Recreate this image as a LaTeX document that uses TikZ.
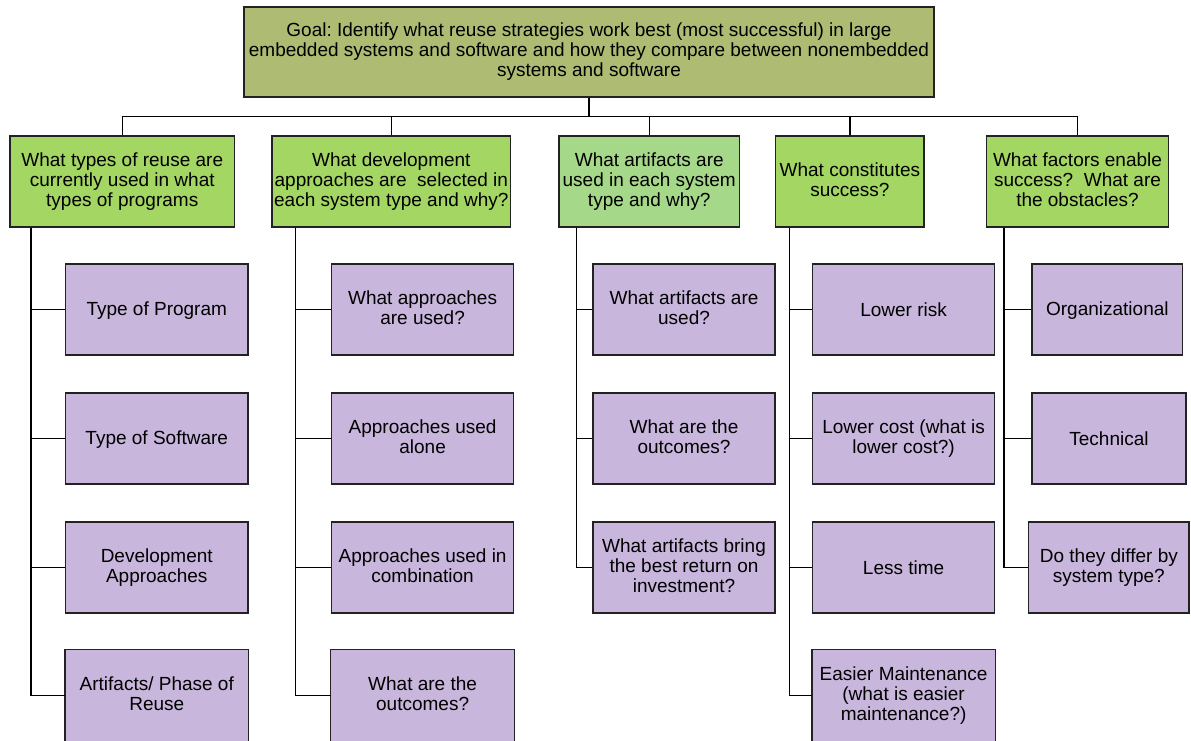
\documentclass[tikz,border=0pt]{standalone}
\usepackage{fontspec}
\setmainfont{Liberation Sans}
\frenchspacing
\definecolor{goalc}{HTML}{ADBB73}
\definecolor{qc}{HTML}{A3D662}
\definecolor{qlc}{HTML}{A6D889}
\definecolor{chc}{HTML}{C8B6DC}
\definecolor{edge}{HTML}{222222}
\newcommand{\linestrut}{\rule[-3.5pt]{0pt}{20pt}}
\begin{document}
\begin{tikzpicture}[x=1pt,y=-1pt,
  box/.style={draw=edge,line width=1.2pt,inner sep=0pt,align=center,minimum height=91pt,
    font=\fontsize{19}{20}\selectfont,execute at begin node=\linestrut,execute at end node=\linestrut},
  goalbox/.style={box,fill=goalc,minimum width=690pt,minimum height=90pt},
  qbox/.style={box,fill=qc},
  qlbox/.style={box,fill=qlc},
  chbox/.style={box,fill=chc},
  lastbox/.style={chbox,draw=none},
  openborder/.style={draw=edge,line width=1.2pt},
  link/.style={line width=1.5pt,draw=black}]
\useasboundingbox (0,0) rectangle (1191,740);
\clip (0,0) rectangle (1191,740);
% goal
\node[goalbox] (goal) at (589,52) {Goal: Identify what reuse strategies work best (most successful) in large\\embedded systems and software and how they compare between nonembedded\\systems and software};
% level 1
\node[qbox,minimum width=224.5pt] (q1) at (122.25,181.5) {What types of reuse are\\currently used in what\\types of programs};
\node[qbox,minimum width=238.7pt] (q2) at (391.35,181.5) {What development\\approaches are\ \ selected in\\each system type and why?};
\node[qlbox,minimum width=180.5pt] (q3) at (649.25,181.5) {What artifacts are\\used in each system\\type and why?};
\node[qbox,minimum width=148.2pt] (q4) at (849.9,181.5) {What constitutes\\success?};
\node[qbox,minimum width=182pt] (q5) at (1077.5,181.5) {What factors enable\\success?\ \ What are\\the obstacles?};
% column 1
\node[chbox,minimum width=182.5pt] (c11) at (156.75,309.5) {Type of Program};
\node[chbox,minimum width=182.5pt] (c12) at (156.75,438.5) {Type of Software};
\node[chbox,minimum width=182.5pt] (c13) at (156.75,567.5) {Development\\Approaches};
\node[lastbox,minimum width=182.5pt] (c14) at (156.75,695.5) {Artifacts/ Phase of\\Reuse};
% column 2
\node[chbox,minimum width=182.4pt] (c21) at (422.6,309.5) {What approaches\\are used?};
\node[chbox,minimum width=182.4pt] (c22) at (422.6,438.5) {Approaches used\\alone};
\node[chbox,minimum width=182.4pt] (c23) at (422.6,567.5) {Approaches used in\\combination};
\node[lastbox,minimum width=182.4pt] (c24) at (422.6,695.5) {What are the\\outcomes?};
% column 3
\node[chbox,minimum width=182pt] (c31) at (684,309.5) {What artifacts are\\used?};
\node[chbox,minimum width=182pt] (c32) at (684,438.5) {What are the\\outcomes?};
\node[chbox,minimum width=182pt] (c33) at (684,567.5) {What artifacts bring\\the best return on\\investment?};
% column 4
\node[chbox,minimum width=182pt] (c41) at (903.6,309.5) {Lower risk};
\node[chbox,minimum width=182pt] (c42) at (903.6,438.5) {Lower cost (what is\\lower cost?)};
\node[chbox,minimum width=182pt] (c43) at (903.6,567.5) {Less time};
\node[lastbox,minimum width=182pt] (c44) at (903.6,695.5) {Easier Maintenance\\(what is easier\\maintenance?)};
% column 5
\node[chbox,minimum width=150.7pt] (c51) at (1107.35,309.5) {Organizational};
\node[chbox,minimum width=154pt] (c52) at (1109,438.5) {Technical};
\node[chbox,minimum width=160.3pt] (c53) at (1108.85,567.5) {Do they differ by\\system type?};
% open borders of the bottom row (cut by the page edge)
\foreach \c in {c14,c24,c44}{
  \draw[openborder] ([yshift=-4pt]\c.south west) -- (\c.north west) -- (\c.north east) -- ([yshift=-4pt]\c.south east);
}
% connectors goal -> level 1
\coordinate (bus) at (589,116.5);
\foreach \q in {q1,q2,q3,q4,q5}{
  \draw[link] (goal.south) -- (bus) -| (\q.north);
}
% trunks
\foreach \c in {c11,c12,c13,c14}{\draw[link] ([xshift=21.8pt]q1.south west) |- (\c.west);}
\foreach \c in {c21,c22,c23,c24}{\draw[link] ([xshift=24pt]q2.south west) |- (\c.west);}
\foreach \c in {c31,c32,c33}{\draw[link] ([xshift=18pt]q3.south west) |- (\c.west);}
\foreach \c in {c41,c42,c43,c44}{\draw[link] ([xshift=14.2pt]q4.south west) |- (\c.west);}
\foreach \c in {c51,c52,c53}{\draw[link] ([xshift=18.1pt]q5.south west) |- (\c.west);}
\end{tikzpicture}
\end{document}
